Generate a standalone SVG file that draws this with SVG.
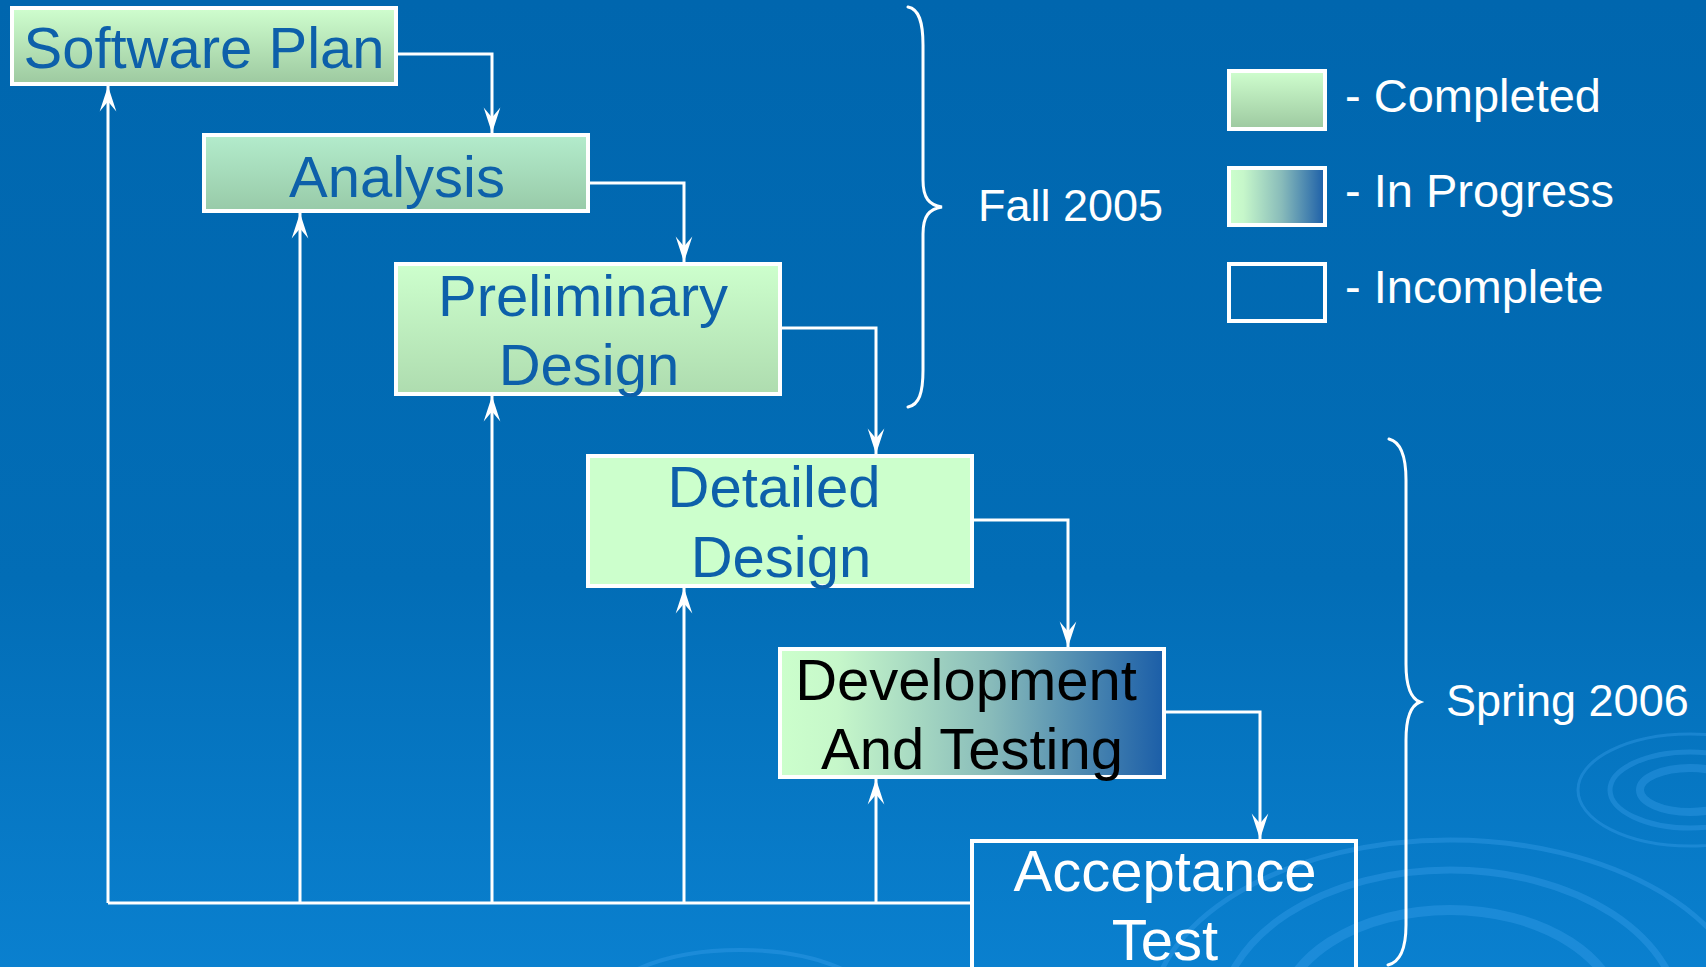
<svg xmlns="http://www.w3.org/2000/svg" width="1706" height="967" viewBox="0 0 1706 967">
<defs>
<linearGradient id="bg" x1="0" y1="0" x2="0" y2="1">
<stop offset="0" stop-color="#0066AE"/><stop offset="0.6" stop-color="#026DB6"/><stop offset="1" stop-color="#0A80CF"/>
</linearGradient>
<linearGradient id="gDone" x1="0" y1="0" x2="0" y2="1">
<stop offset="0" stop-color="#CFFECE"/><stop offset="1" stop-color="#9DC9A0"/>
</linearGradient>
<linearGradient id="gAna" x1="0" y1="0" x2="0" y2="1">
<stop offset="0" stop-color="#B3ECCC"/><stop offset="1" stop-color="#98CAA8"/>
</linearGradient>
<linearGradient id="gPre" x1="0" y1="0" x2="0" y2="1">
<stop offset="0" stop-color="#CDFFCD"/><stop offset="1" stop-color="#AEDCAF"/>
</linearGradient>
<linearGradient id="gProg" x1="0" y1="0" x2="1" y2="0">
<stop offset="0" stop-color="#CCFFCC"/><stop offset="0.15" stop-color="#C6F7CA"/><stop offset="0.55" stop-color="#88BBBA"/><stop offset="1" stop-color="#1B5EA8"/>
</linearGradient>
<marker id="ah" markerUnits="userSpaceOnUse" markerWidth="30" markerHeight="20" viewBox="-24 -9 26 18" refX="0" refY="0" orient="auto">
<path d="M0,0 L-23,-7.5 L-14,0 L-23,7.5 Z" fill="#FFFFFF"/>
</marker>
</defs>
<style>
.box{stroke:#FFFFFF;stroke-width:4}
.lbl{font-family:"Liberation Sans",Arial,sans-serif;font-size:58px;text-anchor:middle}
.blue{fill:#0D60AA}
.side{font-family:"Liberation Sans",Arial,sans-serif;font-size:45px;fill:#FFFFFF}
.leg{font-family:"Liberation Sans",Arial,sans-serif;font-size:47px;fill:#FFFFFF}
.ln{fill:none;stroke:#FFFFFF;stroke-width:3}
.br{fill:none;stroke:#FFFFFF;stroke-width:3;stroke-linecap:round}
.rip{fill:none;stroke:#3FA2EE;stroke-opacity:0.35}
</style>
<rect x="0" y="0" width="1706" height="967" fill="url(#bg)"/>
<g id="ripples">
<ellipse class="rip" cx="1690" cy="790" rx="50" ry="22" stroke-width="8"/>
<ellipse class="rip" cx="1690" cy="790" rx="80" ry="38" stroke-width="5"/>
<ellipse class="rip" cx="1690" cy="790" rx="112" ry="56" stroke-width="3"/>
<ellipse class="rip" cx="1450" cy="1020" rx="170" ry="110" stroke-width="10"/>
<ellipse class="rip" cx="1450" cy="1020" rx="230" ry="150" stroke-width="7"/>
<ellipse class="rip" cx="1450" cy="1020" rx="300" ry="180" stroke-width="5"/>
<ellipse class="rip" cx="740" cy="1010" rx="140" ry="60" stroke-width="4"/>
</g>
<g id="connectors">
<path class="ln" d="M398,54 H492 V133" marker-end="url(#ah)"/>
<path class="ln" d="M590,183 H684 V262" marker-end="url(#ah)"/>
<path class="ln" d="M782,328 H876 V454" marker-end="url(#ah)"/>
<path class="ln" d="M974,520 H1068 V647" marker-end="url(#ah)"/>
<path class="ln" d="M1166,712 H1260 V839" marker-end="url(#ah)"/>
<path class="ln" d="M971,903 H108"/>
<path class="ln" d="M108,903 V86" marker-end="url(#ah)"/>
<path class="ln" d="M300,903 V213" marker-end="url(#ah)"/>
<path class="ln" d="M492,903 V396" marker-end="url(#ah)"/>
<path class="ln" d="M684,903 V588" marker-end="url(#ah)"/>
<path class="ln" d="M876,903 V779" marker-end="url(#ah)"/>
</g>
<g id="software-plan">
<rect class="box" x="12" y="8" width="384" height="76" fill="url(#gDone)"/>
<text class="lbl blue" x="204" y="68">Software Plan</text>
</g>
<g id="analysis">
<rect class="box" x="204" y="135" width="384" height="76" fill="url(#gAna)"/>
<text class="lbl blue" x="397" y="197">Analysis</text>
</g>
<g id="preliminary-design">
<rect class="box" x="396" y="264" width="384" height="130" fill="url(#gPre)"/>
<text class="lbl blue" x="583" y="316">Preliminary</text>
<text class="lbl blue" x="589" y="385">Design</text>
</g>
<g id="detailed-design">
<rect class="box" x="588" y="456" width="384" height="130" fill="#CCFFCC"/>
<text class="lbl blue" x="774" y="507">Detailed</text>
<text class="lbl blue" x="781" y="577">Design</text>
</g>
<g id="development-testing">
<rect class="box" x="780" y="649" width="384" height="128" fill="url(#gProg)"/>
<text class="lbl" x="966" y="700" fill="#000000">Development</text>
<text class="lbl" x="972" y="769" fill="#000000">And Testing</text>
</g>
<g id="acceptance-test">
<rect class="box" x="972" y="841" width="384" height="130" fill="none"/>
<text class="lbl" x="1165" y="891" fill="#FFFFFF">Acceptance</text>
<text class="lbl" x="1165" y="960" fill="#FFFFFF">Test</text>
</g>
<g id="fall-2005">
<path class="br" d="M908,7 C919,9 923,22 923,45 L923,180 C923,198 929,205 942,207 C929,209 923,216 923,234 L923,370 C923,393 919,405 908,407"/>
<text class="side" x="978" y="221">Fall 2005</text>
</g>
<g id="spring-2006">
<path class="br" d="M1389,439 C1401,442 1406,458 1406,480 L1406,664 C1406,690 1412,699 1420,702 C1412,705 1406,714 1406,740 L1406,925 C1406,950 1400,962 1388,965"/>
<text class="side" x="1446" y="716">Spring 2006</text>
</g>
<g id="legend">
<rect class="box" x="1229" y="71" width="96" height="58" fill="url(#gDone)"/>
<text class="leg" x="1345" y="112">- Completed</text>
<rect class="box" x="1229" y="168" width="96" height="57" fill="url(#gProg)"/>
<text class="leg" x="1345" y="207">- In Progress</text>
<rect class="box" x="1229" y="264" width="96" height="57" fill="none"/>
<text class="leg" x="1345" y="303">- Incomplete</text>
</g>
</svg>
